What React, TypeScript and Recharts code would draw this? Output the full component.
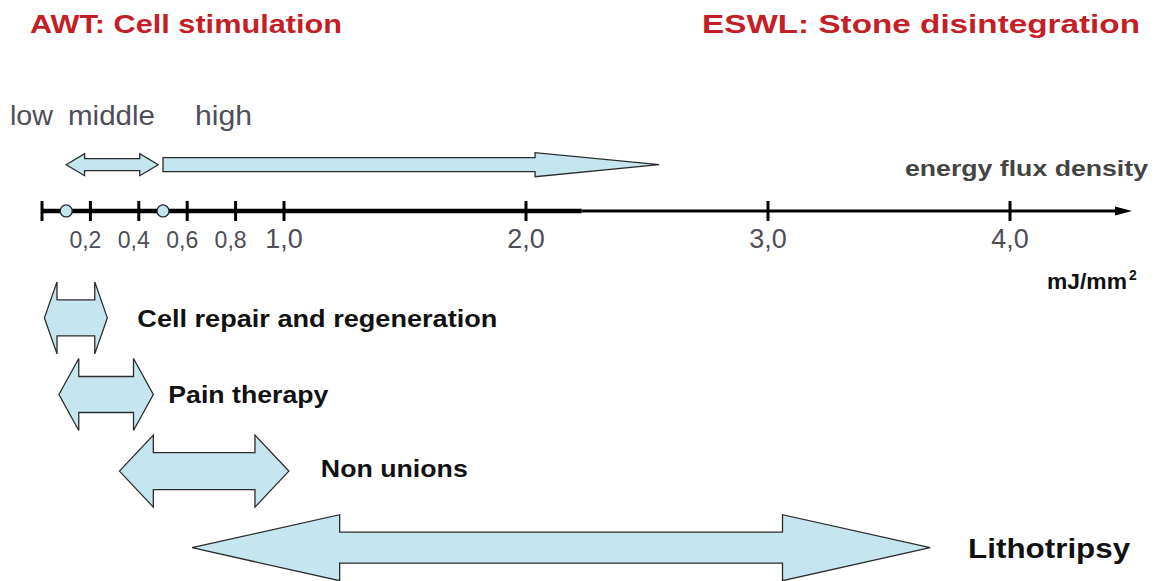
import React from 'react';
import { ComposedChart, Bar, XAxis, YAxis, ReferenceLine, ReferenceDot, Customized } from 'recharts';

// energy flux density in mJ/mm²
const AXIS_MAX = 4.5;
const AXIS_THICK_END = 2.23; // the axis line gets thinner past this point
const TICK_VALUES = [0, 0.2, 0.4, 0.6, 0.8, 1.0, 2.0, 3.0, 4.0];
const TICK_LABELS = ['', '0,2', '0,4', '0,6', '0,8', '1,0', '2,0', '3,0', '4,0'];
const LEVEL_MARKERS = [0.1, 0.5];

// low/middle and high AWT intensity ranges
const LEVEL_NAMES = ['middle', 'high'];
const LEVEL_FROM = [0.1, 0.5];
const LEVEL_TO = [0.48, 2.55];

const THERAPIES = ['Cell repair and regeneration', 'Pain therapy', 'Non unions', 'Lithotripsy'];
const THERAPY_FROM = [0.01, 0.07, 0.32, 0.62];
const THERAPY_TO = [0.27, 0.46, 1.02, 3.67];

// rows, top to bottom
const LEVEL_LANE = 0;
const AXIS_LANE = 0.6;
const THERAPY_LANES = [2, 3, 4, 5];

const rows = [
  ...LEVEL_NAMES.map((name, i) => ({
    name,
    lane: LEVEL_LANE,
    range: [LEVEL_FROM[i], LEVEL_TO[i]],
  })),
  ...THERAPIES.map((name, i) => ({
    name,
    lane: THERAPY_LANES[i],
    range: [THERAPY_FROM[i], THERAPY_TO[i]],
  })),
];

const FONT = '"Liberation Sans", Arial, Helvetica, sans-serif';
const FILL = '#c6e6ef';
const EDGE = '#2b2b2b';
const RED = '#c41e26';
const GREY = '#4e4e58';

// arrow geometry: head height, body height, head length as share of total length
const ARROWS: Record<string, { head: number; body: number; tip: number; single?: boolean }> = {
  middle: { head: 22, body: 12, tip: 0.2 },
  high: { head: 24, body: 14, tip: 0.25, single: true },
  'Cell repair and regeneration': { head: 72, body: 36, tip: 0.2 },
  'Pain therapy': { head: 72, body: 36, tip: 0.21 },
  'Non unions': { head: 72, body: 37, tip: 0.2 },
  Lithotripsy: { head: 66, body: 31, tip: 0.2 },
};

// label placement next to each therapy arrow
const LABELS: Record<string, { gap: number; len: number; dy: number; size: number }> = {
  'Cell repair and regeneration': { gap: 30, len: 360, dy: 9, size: 24 },
  'Pain therapy': { gap: 15, len: 160, dy: 8, size: 24 },
  'Non unions': { gap: 32, len: 147, dy: 6, size: 24 },
  Lithotripsy: { gap: 38, len: 162, dy: 10, size: 27 },
};

function ArrowShape(props: any) {
  const { x, y, width, height, payload } = props;
  const a = ARROWS[payload.name];
  const cy = y + height / 2;
  const x2 = x + width;
  const hl = width * a.tip;
  const hh = a.head / 2;
  const bh = a.body / 2;
  let pts: number[][];
  if (a.single) {
    pts = [
      [x, cy - bh],
      [x2 - hl, cy - bh],
      [x2 - hl, cy - hh],
      [x2, cy],
      [x2 - hl, cy + hh],
      [x2 - hl, cy + bh],
      [x, cy + bh],
    ];
  } else {
    pts = [
      [x, cy],
      [x + hl, cy - hh],
      [x + hl, cy - bh],
      [x2 - hl, cy - bh],
      [x2 - hl, cy - hh],
      [x2, cy],
      [x2 - hl, cy + hh],
      [x2 - hl, cy + bh],
      [x + hl, cy + bh],
      [x + hl, cy + hh],
    ];
  }
  const lab = LABELS[payload.name];
  return (
    <g>
      <polygon points={pts.map((p) => p.join(',')).join(' ')} fill={FILL} stroke={EDGE} strokeWidth={1.3} />
      {lab && (
        <text
          x={x2 + lab.gap}
          y={cy + lab.dy}
          fontFamily={FONT}
          fontWeight="bold"
          fontSize={lab.size}
          fill="#111"
          textLength={lab.len}
          lengthAdjust="spacingAndGlyphs"
        >
          {payload.name}
        </text>
      )}
    </g>
  );
}

function TickMark(props: any) {
  const { cx, cy, label, value } = props;
  const big = value >= 1;
  return (
    <g>
      <line x1={cx} x2={cx} y1={cy - 10} y2={cy + 10} stroke="#000" strokeWidth={3} />
      {label && (
        <text
          x={cx + (big ? 0 : -5)}
          y={cy + 37}
          textAnchor="middle"
          fontFamily={FONT}
          fontSize={big ? 27 : 23}
          fill={GREY}
        >
          {label}
        </text>
      )}
    </g>
  );
}

function AxisLine(props: any) {
  const { x1, y1, x2, y2, strokeWidth, arrow } = props;
  return (
    <g>
      <line x1={x1} y1={y1} x2={arrow ? x2 - 12 : x2} y2={y2} stroke="#000" strokeWidth={strokeWidth} />
      {arrow && <polygon points={`${x2 - 16},${y2 - 4.5} ${x2 + 1},${y2} ${x2 - 16},${y2 + 4.5}`} fill="#000" />}
    </g>
  );
}

function Annotations() {
  return (
    <g fontFamily={FONT}>
      <text x={30} y={33} fontSize={25} fontWeight="bold" fill={RED} textLength={312} lengthAdjust="spacingAndGlyphs">
        AWT: Cell stimulation
      </text>
      <text x={702} y={33} fontSize={25} fontWeight="bold" fill={RED} textLength={438} lengthAdjust="spacingAndGlyphs">
        ESWL: Stone disintegration
      </text>
      <text x={10} y={125} fontSize={28} fill={GREY} textLength={43} lengthAdjust="spacingAndGlyphs">
        low
      </text>
      <text x={68} y={125} fontSize={28} fill={GREY} textLength={87} lengthAdjust="spacingAndGlyphs">
        middle
      </text>
      <text x={195} y={125} fontSize={28} fill={GREY} textLength={57} lengthAdjust="spacingAndGlyphs">
        high
      </text>
      <text x={905} y={176} fontSize={22} fontWeight="bold" fill="#444" textLength={243} lengthAdjust="spacingAndGlyphs">
        energy flux density
      </text>
      <text x={1047} y={289} fontSize={22} fontWeight="bold" fill="#111" textLength={80} lengthAdjust="spacingAndGlyphs">
        mJ/mm
      </text>
      <text x={1129} y={280} fontSize={14} fontWeight="bold" fill="#111">
        2
      </text>
    </g>
  );
}

export default function App() {
  return (
    <div style={{ position: 'absolute', left: 0, top: 0, width: 1157, height: 581, background: '#fff' }}>
      <ComposedChart
        width={1157}
        height={581}
        data={rows}
        layout="vertical"
        margin={{ top: 165, right: 26, bottom: 33, left: 42 }}
      >
        <XAxis type="number" domain={[0, AXIS_MAX]} hide />
        <YAxis type="number" dataKey="lane" domain={[0, 5]} hide />
        <ReferenceLine
          segment={[{ x: 0, y: AXIS_LANE }, { x: AXIS_THICK_END, y: AXIS_LANE }]}
          shape={(p: any) => <AxisLine {...p} strokeWidth={4.5} />}
        />
        <ReferenceLine
          segment={[{ x: AXIS_THICK_END, y: AXIS_LANE }, { x: AXIS_MAX, y: AXIS_LANE }]}
          shape={(p: any) => <AxisLine {...p} strokeWidth={3} arrow />}
        />
        {TICK_VALUES.map((v, i) => (
          <ReferenceDot
            key={'t' + v}
            x={v}
            y={AXIS_LANE}
            r={1}
            shape={(p: any) => <TickMark {...p} value={v} label={TICK_LABELS[i]} />}
          />
        ))}
        {LEVEL_MARKERS.map((v) => (
          <ReferenceDot key={'m' + v} x={v} y={AXIS_LANE} r={6} fill={FILL} stroke={EDGE} strokeWidth={1.3} />
        ))}
        <Bar dataKey="range" barSize={72} shape={ArrowShape} isAnimationActive={false} />
        <Customized component={Annotations} />
      </ComposedChart>
    </div>
  );
}
